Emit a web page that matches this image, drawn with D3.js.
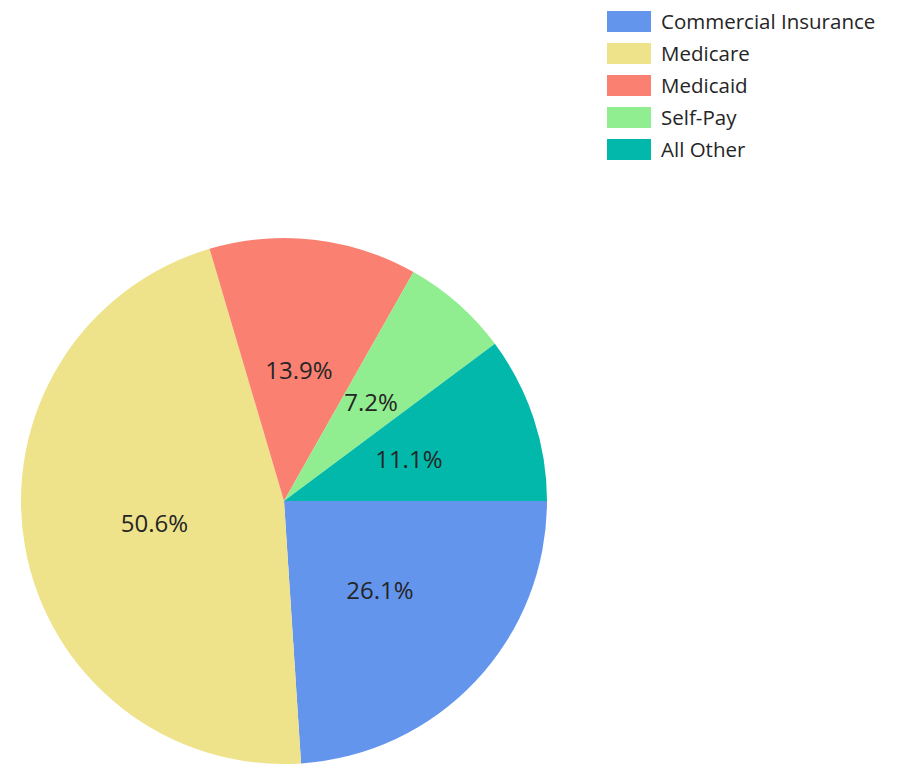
<!DOCTYPE html>
<html>
<head>
<meta charset="utf-8">
<script src="https://cdn.jsdelivr.net/npm/d3@7"></script>
<style>
  body { margin: 0; background: #fff; }
  text { font-family: "Open Sans", "Noto Sans", sans-serif; fill: #252525; }
</style>
</head>
<body>
<div id="chart"></div>
<script>
// payer mix data
const categories = ["Commercial Insurance", "Medicare", "Medicaid", "Self-Pay", "All Other"];
const values = [26.1, 50.6, 13.9, 7.2, 11.1];
const colors = ["#6495ED", "#EEE38A", "#FA8072", "#90EE90", "#01B8AA"];

const width = 905, height = 764;
const cx = 284, cy = 501, radius = 263;

const svg = d3.select("#chart").append("svg")
    .attr("width", width)
    .attr("height", height);

const color = d3.scaleOrdinal().domain(categories).range(colors);

// start at 3 o'clock, go clockwise, keep input order
const pie = d3.pie()
    .sort(null)
    .value(d => d.value)
    .startAngle(Math.PI / 2)
    .endAngle(Math.PI / 2 + 2 * Math.PI);

const data = categories.map((c, i) => ({ name: c, value: values[i] }));
const arcs = pie(data);

const arc = d3.arc().innerRadius(0).outerRadius(radius);

const g = svg.append("g")
    .attr("transform", "translate(" + cx + "," + cy + ")");

g.selectAll("path")
  .data(arcs)
  .enter().append("path")
    .attr("d", arc)
    .attr("fill", d => color(d.data.name));

g.selectAll("text.lbl")
  .data(arcs)
  .enter().append("text")
    .attr("class", "lbl")
    .attr("transform", d => "translate(" + arc.centroid(d) + ")")
    .attr("text-anchor", "middle")
    .attr("dy", "0.35em")
    .style("font-size", "24px")
    .text(d => d.data.value.toFixed(1) + "%");

// legend
const legend = svg.append("g")
    .attr("transform", "translate(607,11)");

const row = legend.selectAll("g")
  .data(categories)
  .enter().append("g")
    .attr("transform", (d, i) => "translate(0," + i * 32 + ")");

row.append("rect")
    .attr("width", 44)
    .attr("height", 21)
    .attr("fill", d => color(d));

row.append("text")
    .attr("x", 54)
    .attr("y", 10.5)
    .attr("dy", "0.35em")
    .style("font-size", "20.5px")
    .text(d => d);
</script>
</body>
</html>
